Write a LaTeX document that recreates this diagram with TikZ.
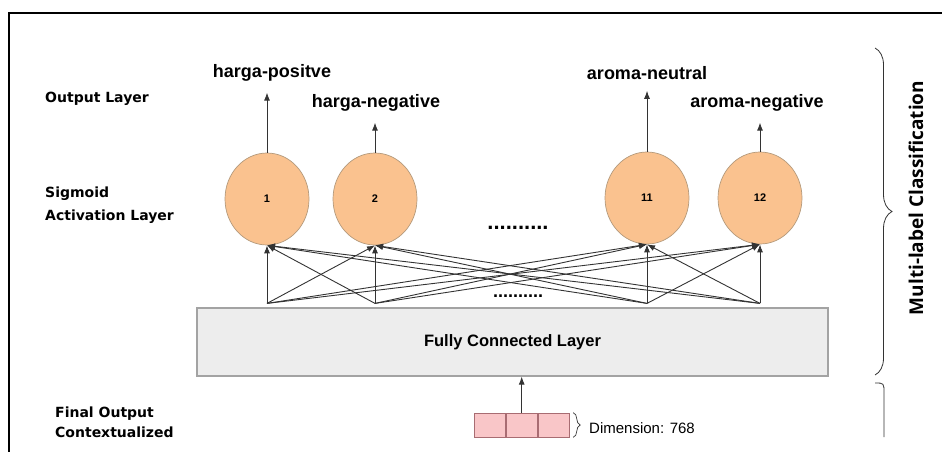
\documentclass[tikz,border=0pt]{standalone}
\usepackage{fontspec}
\setmainfont{Liberation Sans}
\newfontfamily\handfont{DejaVu Sans}
\newfontfamily\sidefont{Open Sans}
\usepackage{tikz}
\usetikzlibrary{arrows.meta,positioning,shapes.geometric,decorations.pathreplacing}
\definecolor{unitfill}{HTML}{FAC28F}
\definecolor{unitdraw}{HTML}{B49A7C}
\definecolor{fcfill}{HTML}{EDEDED}
\definecolor{fcdraw}{HTML}{A3A3A3}
\definecolor{cellfill}{HTML}{F9C6C8}
\definecolor{celldraw}{HTML}{A86C72}
\definecolor{linegray}{HTML}{333333}

\begin{document}
\begin{tikzpicture}[
  x=1pt, y=-1pt,
  unit/.style={ellipse, draw=unitdraw, fill=unitfill, line width=0.7pt, inner sep=0pt,
    minimum width=84pt, minimum height=92pt, font=\fontsize{11}{13}\selectfont\bfseries},
  outlabel/.style={inner ysep=11pt, font=\fontsize{18}{21}\selectfont\bfseries},
  layer/.style={anchor=west, align=left, inner sep=0pt, font=\handfont\bfseries\fontsize{14}{23}\selectfont},
  fcbox/.style={draw=fcdraw, fill=fcfill, line width=1.2pt, minimum width=631pt,
    minimum height=68pt, font=\fontsize{16.5}{20}\selectfont\bfseries},
  cell/.style={draw=celldraw, fill=cellfill, line width=0.7pt, inner sep=0pt,
    minimum width=31pt, minimum height=24pt},
  arrow/.style={-{Latex[length=8pt,width=6pt]}, line width=0.9pt, draw=linegray},
  dotrow/.style={inner sep=0pt, font=\bfseries\fontsize{#1}{#1}\selectfont},
  bigbrace/.style={decorate, decoration={brace, amplitude=#1}, line width=0.8pt, draw=linegray},
  note/.style={inner sep=0pt, font=\fontsize{15}{18}\selectfont}
]
\useasboundingbox (0,0) rectangle (942,452);
\draw[line width=1.6pt] (942,13) -- (9,13) -- (9,452);

\node[layer] (lout) at (45,99) {Output Layer};
\node[layer] (lsig) at (45,205) {Sigmoid\\Activation Layer};
\node[layer, font=\handfont\bfseries\fontsize{14}{20}\selectfont] (lfin) at (55,422) {Final Output\\Contextualized};

\node[unit] (n1) at (267,199) {1};
\node[unit] (n2) at (375,199) {2};
\node[unit] (n3) at (647,198) {11};
\node[unit] (n4) at (760,198) {12};

\node[outlabel] (o1) at (272,73) {harga-positve};
\node[outlabel] (o2) at (376,103) {harga-negative};
\node[outlabel] (o3) at (647,73) {aroma-neutral};
\node[outlabel] (o4) at (757,103) {aroma-negative};
\foreach \i in {1,...,4}
  \draw[arrow] (n\i.north) -- (n\i.north |- o\i.south);

\node[dotrow=22] (dots1) at (518,228) {..........};
\node[dotrow=18] (dots2) at (518,296) {..........};

\node[fcbox] (fc) at (512.5,342) {Fully Connected Layer};
\foreach \i in {1,...,4}
  \coordinate (s\i) at ([yshift=4pt]fc.north -| n\i);
\foreach \i in {1,...,4}
  \foreach \j in {1,...,4}
    \draw[arrow] (s\i) -- (n\j.south);

\node[cell] (d1) at (490,425) {};
\node[cell, right=0pt of d1] (d2) {};
\node[cell, right=0pt of d2] (d3) {};
\draw[arrow] (d2.north) -- (d2.north |- fc.south);
\draw[bigbrace=7pt, line width=0.7pt] ([xshift=4pt]d3.north east) -- ([xshift=4pt]d3.south east);
\node[note, anchor=west] (dim) at (589,428) {Dimension: 768};

\coordinate (bt) at (875,48);
\coordinate (bb) at (875,375);
\draw[bigbrace=17pt] (bt) -- (bb);
\draw[line width=0.8pt, draw=linegray] (875,383) .. controls (884,383) .. (884,393) -- (884,437);
\node[rotate=90, inner sep=0pt, font=\sidefont\bfseries\fontsize{19}{22}\selectfont] (mlc) at (916,198) {Multi-label Classification};
\end{tikzpicture}
\end{document}
